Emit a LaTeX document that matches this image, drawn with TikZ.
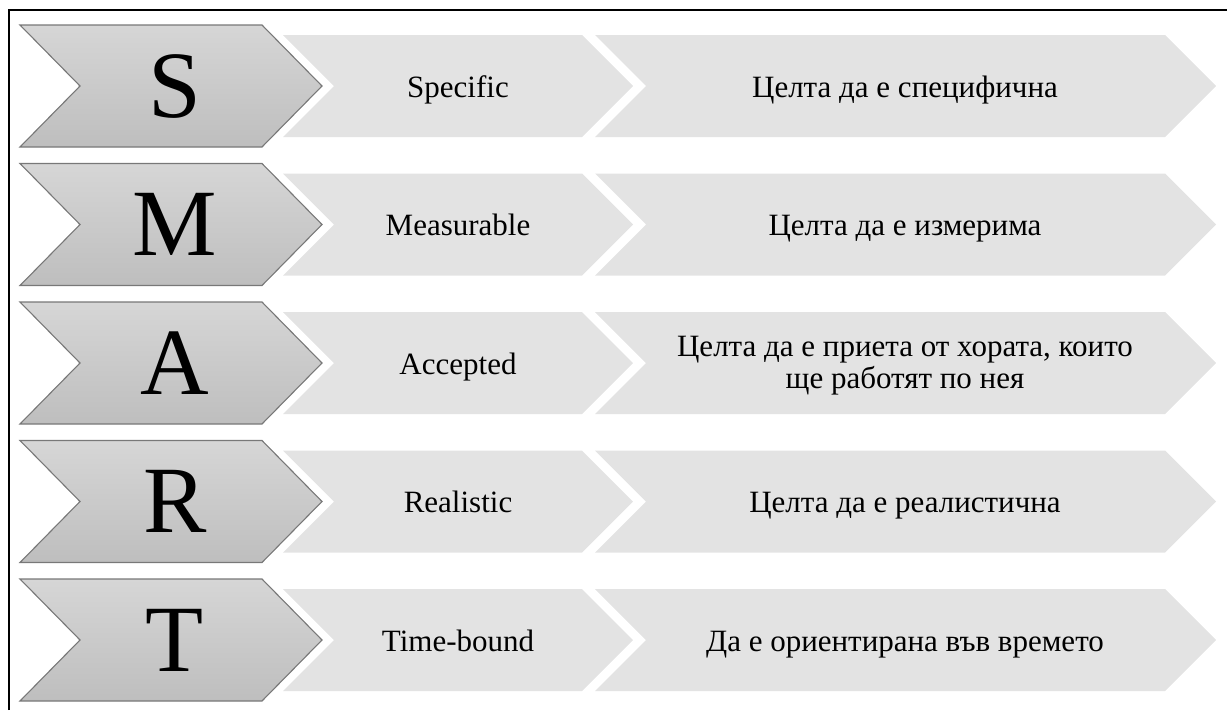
\documentclass[tikz,border=0pt]{standalone}
\usepackage{fontspec}
\setmainfont{Liberation Serif}
\definecolor{chevtop}{RGB}{214,214,214}
\definecolor{chevbot}{RGB}{190,190,190}
\definecolor{chevline}{RGB}{120,120,120}
\definecolor{chevlight}{RGB}{227,227,227}

\begin{document}
\begin{tikzpicture}[x=1pt,y=-1pt]
\tikzstyle{letterchev}=[draw=chevline,line width=1.1pt,line join=miter,top color=chevtop,bottom color=chevbot]
\tikzstyle{lightchev}=[fill=chevlight]
\tikzstyle{bigletter}=[anchor=base,inner sep=0pt,font=\fontsize{95}{95}\selectfont]
\tikzstyle{rowtext}=[anchor=base,inner sep=0pt,align=center,font=\fontsize{31}{32}\selectfont]
\useasboundingbox (0,0) rectangle (1227,710);
\draw[line width=2pt] (9,710) -- (9,10) -- (1227,10);
\foreach \L/\W/\D/\dy [count=\i from 0] in {S/Specific/{Целта да е специфична}/11,
  M/Measurable/{Целта да е измерима}/11,
  A/Accepted/{Целта да е приета от хората, които\\ще работят по нея}/25,
  R/Realistic/{Целта да е реалистична}/11,
  T/Time-bound/{Да е ориентирана във времето}/11}{
  \pgfmathsetmacro\yc{86+138.5*\i}
  % light chevrons
  \fill[lightchev] (283,\yc-51) -- (582,\yc-51) -- (633,\yc) -- (582,\yc+51) -- (283,\yc+51) -- (334,\yc) -- cycle;
  \fill[lightchev] (595,\yc-51) -- (1165,\yc-51) -- (1216,\yc) -- (1165,\yc+51) -- (595,\yc+51) -- (646,\yc) -- cycle;
  % letter chevron
  \draw[letterchev] (20,\yc-61) -- (262,\yc-61) -- (322,\yc) -- (262,\yc+61) -- (20,\yc+61) -- (80,\yc) -- cycle;
  \node[bigletter] (l\i) at (175,\yc+31) {\L};
  \node[rowtext] (w\i) at (458,\yc+11) {\W};
  \node[rowtext] (d\i) at (905,\yc+\dy) {\D};
}
\end{tikzpicture}
\end{document}
